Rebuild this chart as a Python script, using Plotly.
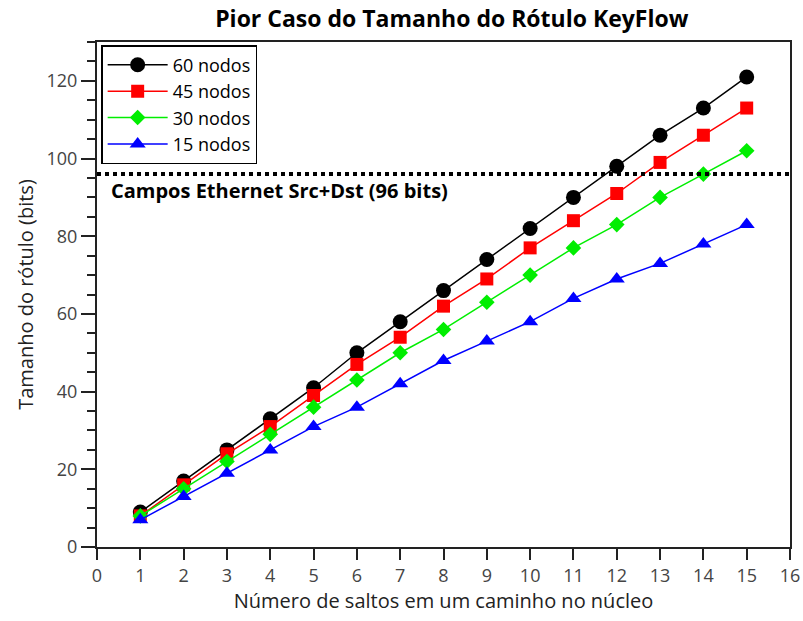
import plotly.graph_objects as go

hops = list(range(1, 16))
n60 = [9, 17, 25, 33, 41, 50, 58, 66, 74, 82, 90, 98, 106, 113, 121]
n45 = [8, 16, 24, 31, 39, 47, 54, 62, 69, 77, 84, 91, 99, 106, 113]
n30 = [8, 15, 22, 29, 36, 43, 50, 56, 63, 70, 77, 83, 90, 96, 102]
n15 = [7, 13, 19, 25, 31, 36, 42, 48, 53, 58, 64, 69, 73, 78, 83]
ethernet_bits = 96

series = [
    ("60 nodos", n60, "black", "circle", 15),
    ("45 nodos", n45, "red", "square", 13),
    ("30 nodos", n30, "#00ee00", "diamond", 12),
    ("15 nodos", n15, "blue", "triangle-up", 14),
]

FONT = "Open Sans"
fig = go.Figure()
for name, vals, color, sym, size in series:
    fig.add_trace(go.Scatter(
        x=hops, y=vals, name=name, mode="lines+markers",
        line=dict(color=color, width=1.5),
        marker=dict(symbol=sym, size=size, color=color, line=dict(width=0)),
    ))

fig.add_shape(type="line", xref="paper", yref="y", x0=0, x1=1,
              y0=ethernet_bits, y1=ethernet_bits,
              line=dict(color="black", width=4, dash="dot"))
fig.add_annotation(xref="paper", yref="y", x=0.017, y=ethernet_bits,
                   yshift=-16, xanchor="left", yanchor="middle", showarrow=False,
                   text="<b>Campos Ethernet Src+Dst (96 bits)</b>",
                   font=dict(family=FONT, size=20, color="black"))

fig.update_layout(
    width=803, height=621,
    margin=dict(l=97, r=13, t=42, b=74),
    paper_bgcolor="white", plot_bgcolor="white",
    font=dict(family=FONT, color="#222"),
    title=dict(text="<b>Pior Caso do Tamanho do Rótulo KeyFlow</b>",
               xref="paper", x=0.512, xanchor="center", y=0.97, yanchor="middle",
               font=dict(family=FONT, size=23, color="black")),
    legend=dict(x=0.006, y=0.994, xanchor="left", yanchor="top",
                bordercolor="black", borderwidth=1.5, bgcolor="white",
                font=dict(family=FONT, size=18, color="black"),
                itemwidth=60, tracegroupgap=0),
    showlegend=True,
)
fig.update_xaxes(range=[0, 16], tickmode="linear", tick0=0, dtick=1,
                 showgrid=False, zeroline=False, automargin=False,
                 showline=True, linecolor="#222", linewidth=2, mirror=True,
                 ticks="outside", ticklen=11, tickwidth=1.5, tickcolor="#222",
                 tickfont=dict(family=FONT, size=18, color="#444"),
                 title=dict(text="Número de saltos em um caminho no núcleo",
                            font=dict(family=FONT, size=20, color="#222"), standoff=6))
fig.update_yaxes(range=[0, 130], tickmode="linear", tick0=0, dtick=20,
                 showgrid=False, zeroline=False, automargin=False,
                 showline=True, linecolor="#222", linewidth=2, mirror=True,
                 ticks="outside", ticklen=14, tickwidth=1.5, tickcolor="#222",
                 minor=dict(dtick=5, ticks="outside", ticklen=8, tickwidth=1.5, tickcolor="#222"),
                 tickfont=dict(family=FONT, size=18, color="#444"),
                 title=dict(text="Tamanho do rótulo (bits)",
                            font=dict(family=FONT, size=20, color="#222"), standoff=8))

fig.write_html("out.html")
